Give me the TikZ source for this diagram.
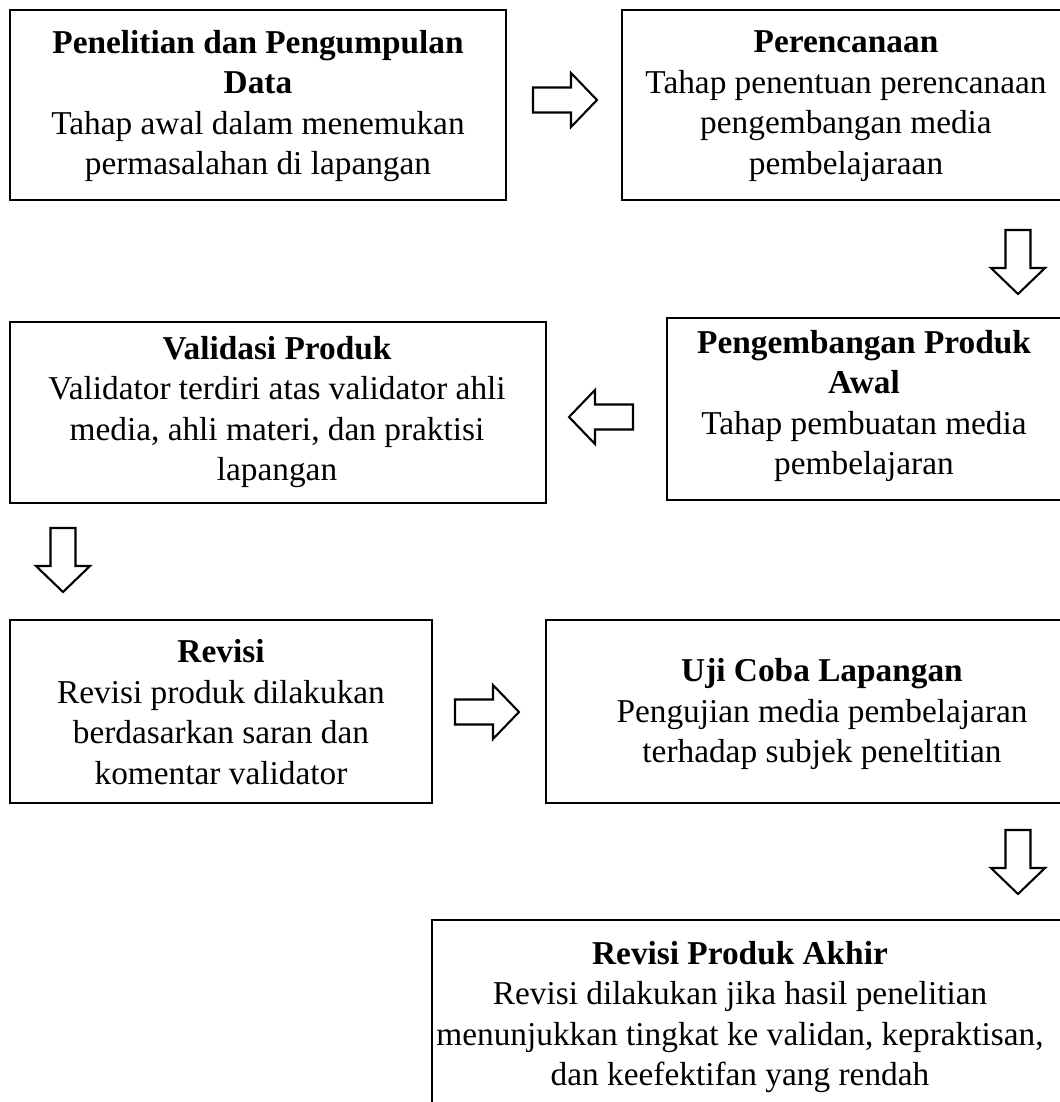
\documentclass[tikz,border=0pt]{standalone}
\usepackage{fontspec}
\setmainfont{Liberation Serif}
\usetikzlibrary{fit,calc}

\tikzset{
  box/.style={draw, line width=0.75pt, inner sep=0pt},
  txt/.style={align=center, inner sep=0pt, font=\fontsize{12}{14.6}\selectfont},
  arrowline/.style={draw, line width=0.75pt, fill=white, line join=miter},
  blockarrow/.pic={\path[arrowline] (-32,-12.5) -- (6,-12.5) -- (6,-27) -- (32,0) -- (6,27) -- (6,12.5) -- (-32,12.5) -- cycle;}
}

\begin{document}
\begin{tikzpicture}[x=0.36pt, y=-0.36pt]
\useasboundingbox (0,0) rectangle (1060,1102);
\clip (0,0) rectangle (1060,1102);

% boxes
\node[box, fit={(10,10) (506,200)}] (penelitian) {};
\node[box, fit={(622,10) (1066,200)}] (perencanaan) {};
\node[box, fit={(667,318) (1062,500)}] (pengembangan) {};
\node[box, fit={(10,322) (546,503)}] (validasi) {};
\node[box, fit={(10,620) (432,803)}] (revisi) {};
\node[box, fit={(546,620) (1100,803)}] (ujicoba) {};
\node[box, fit={(432,920) (1100,1130)}] (revisiakhir) {};

% texts
\node[txt] (penelitianTxt) at (258,106) {\textbf{Penelitian dan Pengumpulan}\\\textbf{Data}\\Tahap awal dalam menemukan\\permasalahan di lapangan};
\node[txt] (perencanaanTxt) at (846,106) {\textbf{Perencanaan}\\Tahap penentuan perencanaan\\pengembangan media\\pembelajaraan};
\node[txt] (pengembanganTxt) at (864,406) {\textbf{Pengembangan Produk}\\\textbf{Awal}\\Tahap pembuatan media\\pembelajaran};
\node[txt] (validasiTxt) at (277,412) {\textbf{Validasi Produk}\\Validator terdiri atas validator ahli\\media, ahli materi, dan praktisi\\lapangan};
\node[txt] (revisiTxt) at (221,712) {\textbf{Revisi}\\Revisi produk dilakukan\\berdasarkan saran dan\\komentar validator};
\node[txt] (ujicobaTxt) at (822,714) {\textbf{Uji Coba Lapangan}\\Pengujian media pembelajaran\\terhadap subjek peneltitian};
\node[txt] (revisiakhirTxt) at (740,1017) {\textbf{Revisi Produk Akhir}\\Revisi dilakukan jika hasil penelitian\\menunjukkan tingkat ke validan, kepraktisan,\\dan keefektifan yang rendah};

% block arrows
\pic at (565,100) {blockarrow};
\pic[rotate=-90] at (1018,262) {blockarrow};
\pic[rotate=180] at (601,417) {blockarrow};
\pic[rotate=-90] at (63,560) {blockarrow};
\pic at (487,712) {blockarrow};
\pic[rotate=-90] at (1018,862) {blockarrow};
\end{tikzpicture}
\end{document}
